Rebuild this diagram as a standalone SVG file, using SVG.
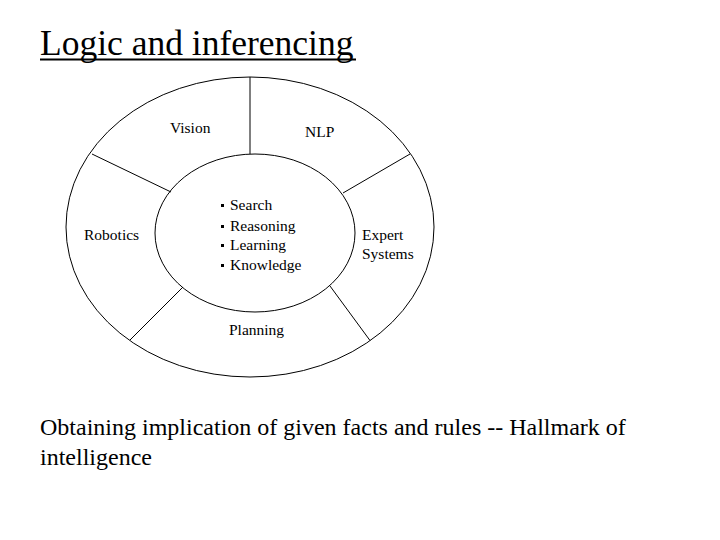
<svg xmlns="http://www.w3.org/2000/svg" width="720" height="540" viewBox="0 0 720 540">
<style>
text{font-family:'Liberation Serif','DejaVu Serif',serif;fill:#000}
.lbl{font-size:15.5px}
.shape{fill:none;stroke:#000;stroke-width:1}
.bul{fill:#000}
</style>
<rect width="720" height="540" fill="#fff"/>
<g id="title">
<text x="40" y="55" style="font-size:35.5px">Logic and inferencing</text>
<rect x="40" y="58.5" width="316" height="2" fill="#000"/>
</g>
<g id="outer-ring">
<ellipse class="shape" cx="250" cy="227" rx="184" ry="150"/>
</g>
<g id="core">
<ellipse class="shape" cx="255" cy="233" rx="100" ry="79"/>
<rect class="bul" x="221" y="204" width="3" height="3"/>
<rect class="bul" x="221" y="225" width="3" height="3"/>
<rect class="bul" x="221" y="244" width="3" height="3"/>
<rect class="bul" x="221" y="264" width="3" height="3"/>
<text class="lbl" x="230" y="210">Search</text>
<text class="lbl" x="230" y="231">Reasoning</text>
<text class="lbl" x="230" y="250">Learning</text>
<text class="lbl" x="230" y="270">Knowledge</text>
</g>
<g id="connectors">
<line class="shape" x1="250" y1="77" x2="250" y2="154"/>
<line class="shape" x1="92" y1="154" x2="171" y2="192"/>
<line class="shape" x1="343" y1="193" x2="410" y2="154"/>
<line class="shape" x1="183" y1="287" x2="130" y2="340"/>
<line class="shape" x1="330" y1="286" x2="370" y2="340.5"/>
</g>
<g id="vision"><text class="lbl" x="170" y="133">Vision</text></g>
<g id="nlp"><text class="lbl" x="305" y="137">NLP</text></g>
<g id="robotics"><text class="lbl" x="84" y="240">Robotics</text></g>
<g id="expert-systems"><text class="lbl" x="362" y="240">Expert</text><text class="lbl" x="362" y="259">Systems</text></g>
<g id="planning"><text class="lbl" x="229" y="335">Planning</text></g>
<g id="caption">
<text x="40" y="435" style="font-size:24px">Obtaining implication of given facts and rules -- Hallmark of</text>
<text x="40" y="465" style="font-size:24px">intelligence</text>
</g>
</svg>
